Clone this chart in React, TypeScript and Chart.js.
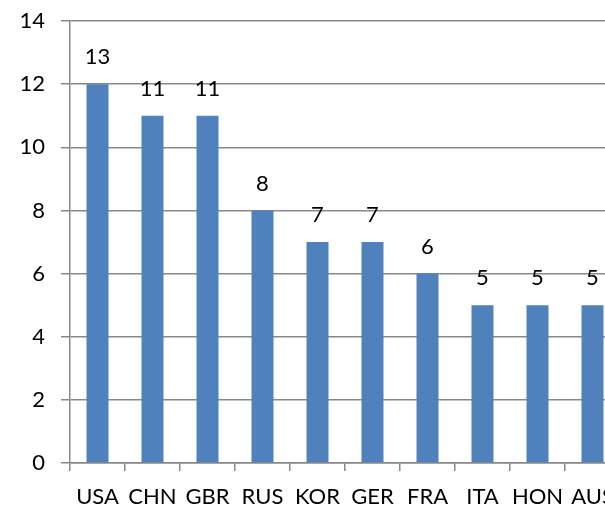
import React, { useEffect, useRef } from "react";
import { Chart, registerables } from "chart.js";

Chart.register(...registerables);

const categories = ["USA", "CHN", "GBR", "RUS", "KOR", "GER", "FRA", "ITA", "HON", "AUS"];
const barValues = [12, 11, 11, 8, 7, 7, 6, 5, 5, 5];
const labelValues = ["13", "11", "11", "8", "7", "7", "6", "5", "5", "5"];
const yTicks = [0, 2, 4, 6, 8, 10, 12, 14];

const FONT = "Lato, 'Open Sans', sans-serif";

const labelPlugin = {
  id: "barLabels",
  afterDatasetsDraw(chart: any) {
    const ctx = chart.ctx;
    const meta = chart.getDatasetMeta(0);
    ctx.save();
    ctx.font = `22px ${FONT}`;
    ctx.fillStyle = "#000000";
    ctx.textAlign = "center";
    ctx.textBaseline = "middle";
    meta.data.forEach((bar: any, i: number) => {
      ctx.fillText(labelValues[i], bar.x, bar.y - 27);
    });
    ctx.restore();
  },
};

export default function App() {
  const ref = useRef<HTMLCanvasElement | null>(null);
  useEffect(() => {
    if (!ref.current) return;
    const chart = new Chart(ref.current, {
      type: "bar",
      data: {
        labels: categories,
        datasets: [
          {
            data: barValues,
            backgroundColor: "#4F81BD",
            barPercentage: 0.4,
            categoryPercentage: 1,
          },
        ],
      },
      options: {
        responsive: false,
        animation: false,
        layout: { padding: { left: 0, right: 40, top: 21, bottom: 0 } },
        plugins: { legend: { display: false }, tooltip: { enabled: false } },
        scales: {
          x: {
            grid: { drawOnChartArea: false, drawTicks: true, tickLength: 8, color: "#888888", lineWidth: 1.5 },
            border: { color: "#888888", width: 1.5 },
            ticks: { color: "#000000", font: { family: FONT, size: 22 }, padding: 13, maxRotation: 0, autoSkip: false },
            afterFit: (s: any) => { s.height = 44; s.paddingLeft = 0; s.paddingRight = 0; },
          },
          y: {
            min: 0,
            max: 14,
            afterBuildTicks: (s: any) => { s.ticks = yTicks.map((v) => ({ value: v })); },
            grid: { color: "#888888", lineWidth: 1.5, tickLength: 9 },
            border: { color: "#888888", width: 1.5 },
            ticks: { color: "#000000", font: { family: FONT, size: 22 }, padding: 16 },
            afterFit: (s: any) => { s.width = 70; s.paddingTop = 0; s.paddingBottom = 0; },
          },
        },
      },
      plugins: [labelPlugin],
    });
    return () => chart.destroy();
  }, []);
  return (
    <div style={{ position: "absolute", left: 0, top: 0, width: 605, height: 507, overflow: "hidden", background: "#fff" }}>
      <canvas ref={ref} width={660} height={507} style={{ width: 660, height: 507, display: "block" }} />
    </div>
  );
}
